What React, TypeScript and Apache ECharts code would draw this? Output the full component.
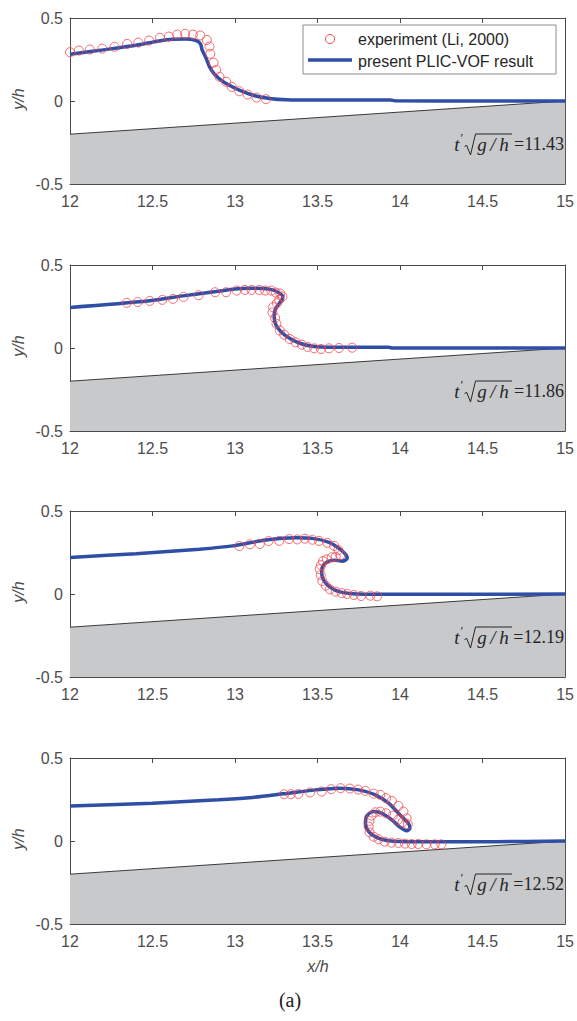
import React, { useEffect, useRef } from 'react';
import * as echarts from 'echarts';

const xTickLabels = ['12', '12.5', '13', '13.5', '14', '14.5', '15'];
const yTickLabels = ['-0.5', '0', '0.5'];
const timeLabels = ['11.43', '11.86', '12.19', '12.52'];
const bedLine = [[12, -0.2], [15, 0]];

const sim1 = [[12, 0.282], [12.2, 0.308], [12.4, 0.336], [12.54, 0.362], [12.62, 0.372], [12.7, 0.373], [12.76, 0.365], [12.79, 0.345], [12.8, 0.31], [12.825, 0.257], [12.845, 0.207], [12.875, 0.162], [12.915, 0.126], [12.96, 0.098], [13.026, 0.066], [13.127, 0.03], [13.22, 0.014], [13.31, 0.008], [13.5, 0.006], [13.94, 0.006], [13.97, 0.001], [14.5, 0.0], [15, 0]];
const exp1 = [[12.0, 0.294], [12.054, 0.304], [12.12, 0.31], [12.195, 0.316], [12.27, 0.326], [12.346, 0.344], [12.414, 0.352], [12.479, 0.364], [12.545, 0.381], [12.599, 0.388], [12.65, 0.4], [12.698, 0.405], [12.744, 0.4], [12.789, 0.395], [12.829, 0.368], [12.845, 0.328], [12.85, 0.284], [12.87, 0.231], [12.886, 0.187], [12.906, 0.146], [12.946, 0.116], [12.98, 0.085], [13.026, 0.059], [13.076, 0.039], [13.13, 0.021], [13.187, 0.011]];

const sim2 = [[12, 0.244], [12.483, 0.284], [12.684, 0.314], [12.885, 0.34], [12.986, 0.354], [13.087, 0.36], [13.17, 0.358], [13.227, 0.35], [13.265, 0.333], [13.29, 0.31], [13.285, 0.29], [13.268, 0.27], [13.243, 0.23], [13.237, 0.19], [13.247, 0.14], [13.277, 0.1], [13.328, 0.06], [13.388, 0.03], [13.469, 0.01], [13.59, 0.004], [13.93, 0.004], [13.96, 0], [15, 0]];
const exp2 = [[12.344, 0.272], [12.41, 0.277], [12.483, 0.284], [12.56, 0.29], [12.624, 0.296], [12.688, 0.308], [12.78, 0.318], [12.879, 0.336], [12.946, 0.336], [13.01, 0.346], [13.06, 0.35], [13.1, 0.35], [13.147, 0.35], [13.183, 0.346], [13.22, 0.346], [13.247, 0.334], [13.274, 0.328], [13.287, 0.31], [13.268, 0.29], [13.254, 0.27], [13.231, 0.246], [13.227, 0.214], [13.243, 0.18], [13.251, 0.146], [13.271, 0.106], [13.298, 0.08], [13.332, 0.054], [13.368, 0.034], [13.405, 0.02], [13.44, 0.006], [13.48, -0.002], [13.521, -0.006], [13.569, -0.002], [13.63, 0], [13.71, 0.002]];

const sim3 = [[12, 0.22], [12.4, 0.243], [12.785, 0.27], [12.986, 0.29], [13.187, 0.325], [13.368, 0.339], [13.469, 0.335], [13.57, 0.311], [13.63, 0.275], [13.67, 0.239], [13.68, 0.215], [13.65, 0.198], [13.6, 0.204], [13.56, 0.194], [13.53, 0.164], [13.525, 0.124], [13.54, 0.078], [13.58, 0.038], [13.63, 0.014], [13.71, 0.002], [13.87, -0.002], [14.29, -0.002], [15, 0]];
const exp3 = [[13.026, 0.289], [13.09, 0.299], [13.15, 0.301], [13.203, 0.319], [13.268, 0.32], [13.328, 0.331], [13.378, 0.329], [13.423, 0.333], [13.469, 0.327], [13.509, 0.32], [13.559, 0.308], [13.6, 0.29], [13.626, 0.265], [13.64, 0.235], [13.61, 0.224], [13.586, 0.221], [13.556, 0.209], [13.533, 0.198], [13.521, 0.174], [13.513, 0.15], [13.519, 0.114], [13.529, 0.078], [13.55, 0.05], [13.575, 0.028], [13.61, 0.014], [13.646, 0.006], [13.68, 0], [13.72, -0.006], [13.764, -0.012], [13.82, -0.01], [13.861, -0.014]];

const sim4 = [[12, 0.211], [12.5, 0.228], [12.9, 0.248], [13.087, 0.261], [13.288, 0.284], [13.489, 0.308], [13.63, 0.318], [13.75, 0.308], [13.85, 0.278], [13.93, 0.228], [14.0, 0.157], [14.05, 0.107], [14.06, 0.077], [14.04, 0.062], [14.0, 0.083], [13.95, 0.127], [13.89, 0.167], [13.84, 0.177], [13.8, 0.153], [13.79, 0.107], [13.81, 0.056], [13.86, 0.02], [13.93, 0.002], [14.09, -0.004], [14.59, -0.004], [15, 0]];
const exp4 = [[13.298, 0.282], [13.338, 0.282], [13.384, 0.284], [13.455, 0.292], [13.525, 0.298], [13.583, 0.312], [13.64, 0.318], [13.696, 0.316], [13.746, 0.31], [13.79, 0.302], [13.84, 0.285], [13.88, 0.278], [13.915, 0.258], [13.95, 0.241], [13.99, 0.211], [14.02, 0.177], [14.04, 0.137], [14.047, 0.101], [14.015, 0.113], [13.987, 0.127], [13.956, 0.153], [13.915, 0.167], [13.88, 0.177], [13.85, 0.173], [13.827, 0.153], [13.815, 0.121], [13.81, 0.086], [13.815, 0.052], [13.84, 0.026], [13.87, 0.01], [13.907, -0.004], [13.948, -0.01], [13.99, -0.012], [14.03, -0.016], [14.07, -0.018], [14.11, -0.018], [14.16, -0.02], [14.21, -0.02], [14.25, -0.02]];

const simSets = [sim1, sim2, sim3, sim4];
const expSets = [exp1, exp2, exp3, exp4];

const TOPS = [18, 265, 511, 758];
const H = 166;
const LEFT = 70;
const W = 497;
const AXIS_COLOR = '#4a4a4a';
const LABEL_COLOR = '#4d4d4d';
const BLUE = '#2f4ea6';
const RED = '#f2454c';
const SANS = "'Liberation Sans', Arial, sans-serif";
const SERIF = "'Liberation Serif', 'Times New Roman', serif";

export default function App() {
  const ref = useRef<HTMLDivElement>(null);
  useEffect(() => {
    if (!ref.current) return;
    const chart = echarts.init(ref.current, undefined, { renderer: 'svg' });

    const grid: any[] = [];
    const xAxis: any[] = [];
    const yAxis: any[] = [];
    const series: any[] = [];
    const graphic: any[] = [];

    TOPS.forEach((top, i) => {
      grid.push({ left: LEFT, top, width: W, height: H, containLabel: false });
      const common = {
        gridIndex: i,
        type: 'value',
        splitLine: { show: false },
        axisLine: { show: true, onZero: false, lineStyle: { color: AXIS_COLOR, width: 1 } },
        axisTick: { show: true, inside: true, length: 5, lineStyle: { color: AXIS_COLOR } },
      };
      xAxis.push({
        ...common,
        position: 'bottom',
        min: 12, max: 15, interval: 0.5,
        axisLabel: {
          show: true, color: LABEL_COLOR, fontSize: 16, fontFamily: SANS, margin: 9,
          formatter: (v: number) => xTickLabels[Math.round((v - 12) / 0.5)] ?? '',
        },
      });
      xAxis.push({
        ...common,
        position: 'top',
        min: 12, max: 15, interval: 0.5,
        axisLabel: { show: false },
      });
      yAxis.push({
        ...common,
        position: 'left',
        min: -0.5, max: 0.5, interval: 0.5,
        axisLabel: {
          show: true, color: LABEL_COLOR, fontSize: 16, fontFamily: SANS, margin: 7,
          formatter: (v: number) => yTickLabels[Math.round((v + 0.5) / 0.5)] ?? '',
        },
      });
      yAxis.push({
        ...common,
        position: 'right',
        min: -0.5, max: 0.5, interval: 0.5,
        axisLabel: { show: false },
      });

      series.push({
        type: 'line',
        xAxisIndex: 2 * i, yAxisIndex: 2 * i,
        data: bedLine,
        showSymbol: false,
        symbol: 'none',
        lineStyle: { color: '#3a3a3a', width: 1 },
        areaStyle: { origin: 'start', color: '#c8c9cb', opacity: 1 },
        z: 1,
        silent: true,
      });
      series.push({
        type: 'line',
        xAxisIndex: 2 * i, yAxisIndex: 2 * i,
        data: simSets[i],
        showSymbol: false,
        symbol: 'none',
        smooth: 0.3,
        lineStyle: { color: BLUE, width: 3.5 },
        z: 3,
        silent: true,
      });
      series.push({
        type: 'scatter',
        xAxisIndex: 2 * i, yAxisIndex: 2 * i,
        data: expSets[i],
        symbol: 'circle',
        symbolSize: 9,
        itemStyle: { color: 'rgba(255,255,255,0)', borderColor: RED, borderWidth: 1 },
        z: 4,
        silent: true,
      });

      // y/h label
      graphic.push({
        type: 'text',
        x: 18, y: top + H / 2 - 2,
        rotation: Math.PI / 2,
        z: 100,
        style: {
          text: 'y/h', fontSize: 16, fontStyle: 'italic', fontFamily: SANS,
          fill: LABEL_COLOR, align: 'center', verticalAlign: 'middle',
        },
      });

      // time annotation t' sqrt(g/h)=...
      const yc = top + 126;
      const ink = '#262626';
      const txt = (x: number, y: number, text: string, size: number, italic: boolean, align = 'center') => ({
        type: 'text', x, y, z: 100,
        style: { text, fontSize: size, fontStyle: italic ? 'italic' : 'normal', fontFamily: SERIF, fill: ink, align, verticalAlign: 'middle' },
      });
      graphic.push(txt(457, yc, 't', 19, true));
      graphic.push(txt(462, yc - 7, '′', 13, false));
      graphic.push({
        type: 'polyline', z: 100,
        shape: { points: [[464.5, yc + 3], [466.5, yc + 1], [470.5, yc + 11], [475.5, yc - 10], [512, yc - 10]] },
        style: { stroke: ink, lineWidth: 1, fill: null },
      });
      graphic.push(txt(482, yc, 'g', 19, true));
      graphic.push(txt(493, yc, '/', 19, true));
      graphic.push(txt(504, yc, 'h', 19, true));
      graphic.push(txt(564, yc, '=' + timeLabels[i], 18, false, 'right'));
    });

    // legend
    graphic.push({
      type: 'rect', z: 110,
      shape: { x: 303, y: 25, width: 253, height: 49 },
      style: { fill: '#ffffff', stroke: '#8c8c8c', lineWidth: 1 },
    });
    graphic.push({
      type: 'circle', z: 111,
      shape: { cx: 330, cy: 39, r: 4.5 },
      style: { fill: 'none', stroke: RED, lineWidth: 1 },
    });
    graphic.push({
      type: 'text', x: 358, y: 39, z: 111,
      style: { text: 'experiment (Li, 2000)', fontSize: 16, fontFamily: SANS, fill: '#262626', align: 'left', verticalAlign: 'middle' },
    });
    graphic.push({
      type: 'line', z: 111,
      shape: { x1: 308, y1: 60, x2: 352, y2: 60 },
      style: { stroke: BLUE, lineWidth: 3.5 },
    });
    graphic.push({
      type: 'text', x: 358, y: 61, z: 111,
      style: { text: 'present PLIC-VOF result', fontSize: 16, fontFamily: SANS, fill: '#262626', align: 'left', verticalAlign: 'middle' },
    });

    // x/h label
    graphic.push({
      type: 'text', x: 318, y: 966, z: 100,
      style: { text: 'x/h', fontSize: 16, fontStyle: 'italic', fontFamily: SANS, fill: LABEL_COLOR, align: 'center', verticalAlign: 'middle' },
    });
    // (a)
    graphic.push({
      type: 'text', x: 290, y: 1000, z: 100,
      style: { text: '(a)', fontSize: 20, fontFamily: SERIF, fill: '#1a1a1a', align: 'center', verticalAlign: 'middle' },
    });

    chart.setOption({
      animation: false,
      backgroundColor: '#ffffff',
      grid, xAxis, yAxis, series, graphic,
    });
    return () => chart.dispose();
  }, []);

  return (
    <div
      ref={ref}
      style={{ position: 'absolute', left: 0, top: 0, width: 577, height: 1021 }}
    />
  );
}
